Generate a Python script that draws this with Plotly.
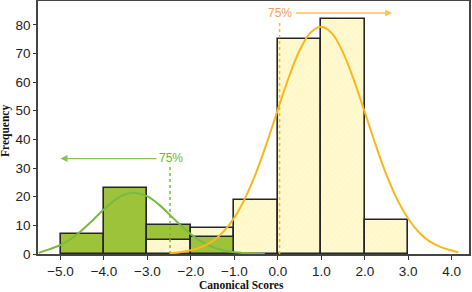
import plotly.graph_objects as go

# ---- data ----
bin_width = 1.0
green_bins = [-4.5, -3.5, -2.5, -1.5]
green_counts = [7, 23, 10, 6]
yellow_bins = [-2.5, -1.5, -0.5, 0.5, 1.5, 2.5]
yellow_counts = [5, 9, 19, 75, 82, 12]

green_curve_x = [-5.5, -5.25, -5.0, -4.75, -4.5, -4.25, -4.0, -3.75, -3.5, -3.3, -3.0, -2.75,
                 -2.5, -2.25, -2.0, -1.75, -1.5, -1.25, -1.0, -0.75, -0.5, -0.3]
green_curve_y = [0.4, 1.7, 3.2, 5.4, 8.4, 11.9, 15.6, 18.8, 20.9, 21.4, 20.1, 17.4,
                 13.9, 10.2, 6.9, 4.3, 2.4, 1.3, 0.6, 0.3, 0.1, 0.0]
yellow_curve_x = [-2.48, -2.25, -2.0, -1.75, -1.5, -1.25, -1.0, -0.75, -0.5, -0.25, 0.0, 0.25,
                  0.5, 0.75, 1.0, 1.25, 1.5, 1.75, 2.0, 2.25, 2.5, 2.75, 3.0, 3.25, 3.5,
                  3.75, 4.0, 4.15]
yellow_curve_y = [0.3, 0.6, 1.3, 2.5, 4.5, 7.8, 12.7, 19.6, 28.4, 38.9, 50.4, 61.6,
                  71.0, 77.2, 79.3, 76.9, 70.3, 60.7, 49.5, 38.1, 27.6, 18.9, 12.3, 7.5, 4.3,
                  2.4, 1.2, 0.6]

x_ticks = [-5, -4, -3, -2, -1, 0, 1, 2, 3, 4]
y_ticks = [0, 10, 20, 30, 40, 50, 60, 70, 80]

green_cut_x, green_cut_top = -2.48, 31.5
yellow_cut_x, yellow_cut_top = 0.04, 81.5
green_label = "75%"
yellow_label = "75%"

# ---- styles ----
GREEN_FILL = "#9DC33B"
YELLOW_FILL = "#FFF9CF"
GREEN_LINE = "#79B943"
YELLOW_LINE = "#F8B81C"
GREEN_TEXT = "#6DB33F"
ORANGE_TEXT = "#F2A055"
EDGE = "#262626"

yellow_map = dict(zip(yellow_bins, yellow_counts))
g_back_x, g_back_y, g_front_x, g_front_y = [], [], [], []
for bx, by in zip(green_bins, green_counts):
    if by >= yellow_map.get(bx, 0):
        g_back_x.append(bx); g_back_y.append(by)
    else:
        g_front_x.append(bx); g_front_y.append(by)

fig = go.Figure()
bar_line = dict(color=EDGE, width=1.6)
fig.add_trace(go.Bar(x=g_back_x, y=g_back_y, width=bin_width,
                     marker=dict(color=GREEN_FILL, line=bar_line)))
fig.add_trace(go.Bar(x=yellow_bins, y=yellow_counts, width=bin_width,
                     marker=dict(color=YELLOW_FILL, line=bar_line,
                                 pattern=dict(shape="/", fgcolor="#FBF0B4", bgcolor=YELLOW_FILL,
                                              size=4, solidity=0.25))))
fig.add_trace(go.Bar(x=g_front_x, y=g_front_y, width=bin_width,
                     marker=dict(color=GREEN_FILL, line=bar_line)))

# cut-off dotted lines
fig.add_trace(go.Scatter(x=[green_cut_x, green_cut_x], y=[0, green_cut_top], mode="lines",
                         line=dict(color=GREEN_LINE, width=1.5, dash="dot")))
fig.add_trace(go.Scatter(x=[yellow_cut_x, yellow_cut_x], y=[0, yellow_cut_top], mode="lines",
                         line=dict(color=YELLOW_LINE, width=1.5, dash="dot")))

# fitted curves
fig.add_trace(go.Scatter(x=green_curve_x, y=green_curve_y, mode="lines", line_shape="spline",
                         line=dict(color=GREEN_LINE, width=2)))
fig.add_trace(go.Scatter(x=yellow_curve_x, y=yellow_curve_y, mode="lines", line_shape="spline",
                         line=dict(color=YELLOW_LINE, width=2)))

W, H = 472, 292
L, R, T, B = 38, 3, 1, 38
pw, ph = W - L - R, H - T - B

annotations = [
    dict(x=-2.45, y=33.5, text=green_label, showarrow=False,
         font=dict(family="Liberation Sans, Arial", size=12, color=GREEN_TEXT)),
    dict(x=-5.0, y=33.3, ax=-2.76, ay=33.3, axref="x", ayref="y", xref="x", yref="y",
         text="", showarrow=True, arrowhead=2, arrowsize=1, arrowwidth=1.4, arrowcolor="#86C25A"),
    dict(x=0.06, y=84.1, text=yellow_label, showarrow=False,
         font=dict(family="Liberation Sans, Arial", size=12, color=ORANGE_TEXT)),
    dict(x=2.63, y=84.1, ax=0.38, ay=84.1, axref="x", ayref="y", xref="x", yref="y",
         text="", showarrow=True, arrowhead=2, arrowsize=1, arrowwidth=1.4, arrowcolor="#F8C55A"),
    dict(xref="paper", yref="paper", x=(241 - L) / pw, y=(H - B - 285.3) / ph,
         xanchor="center", yanchor="middle", text="<b>Canonical Scores</b>", showarrow=False,
         font=dict(family="Liberation Serif, Times New Roman", size=11.5, color="#111")),
    dict(xref="paper", yref="paper", x=(6 - L) / pw, y=(H - B - 131) / ph,
         xanchor="center", yanchor="middle", text="<b>Frequency</b>", showarrow=False,
         textangle=-90,
         font=dict(family="Liberation Serif, Times New Roman", size=11.5, color="#111")),
]

fig.update_layout(
    width=W, height=H,
    margin=dict(l=L, r=R, t=T, b=B),
    paper_bgcolor="white", plot_bgcolor="white",
    barmode="overlay", bargap=0, showlegend=False,
    annotations=annotations,
    font=dict(family="Liberation Sans, Arial", size=13.5, color="#222"),
)
fig.update_xaxes(range=[-5.518, 4.398], tickvals=x_ticks, tickformat=".1f",
                 ticks="outside", ticklen=4, tickcolor="#333", tickwidth=1,
                 showline=True, linecolor="#444", linewidth=1.5, mirror=True,
                 showgrid=False, zeroline=False, automargin=False)
fig.update_yaxes(range=[0, 88.3], tickvals=y_ticks,
                 ticks="outside", ticklen=3, tickcolor="#333", tickwidth=1,
                 showline=True, linecolor="#444", linewidth=1.5, mirror=True,
                 showgrid=False, zeroline=False, automargin=False)

fig.write_html("out.html", config={"displayModeBar": False},
               post_script="document.body.style.margin='0';document.body.style.overflow='hidden';")
